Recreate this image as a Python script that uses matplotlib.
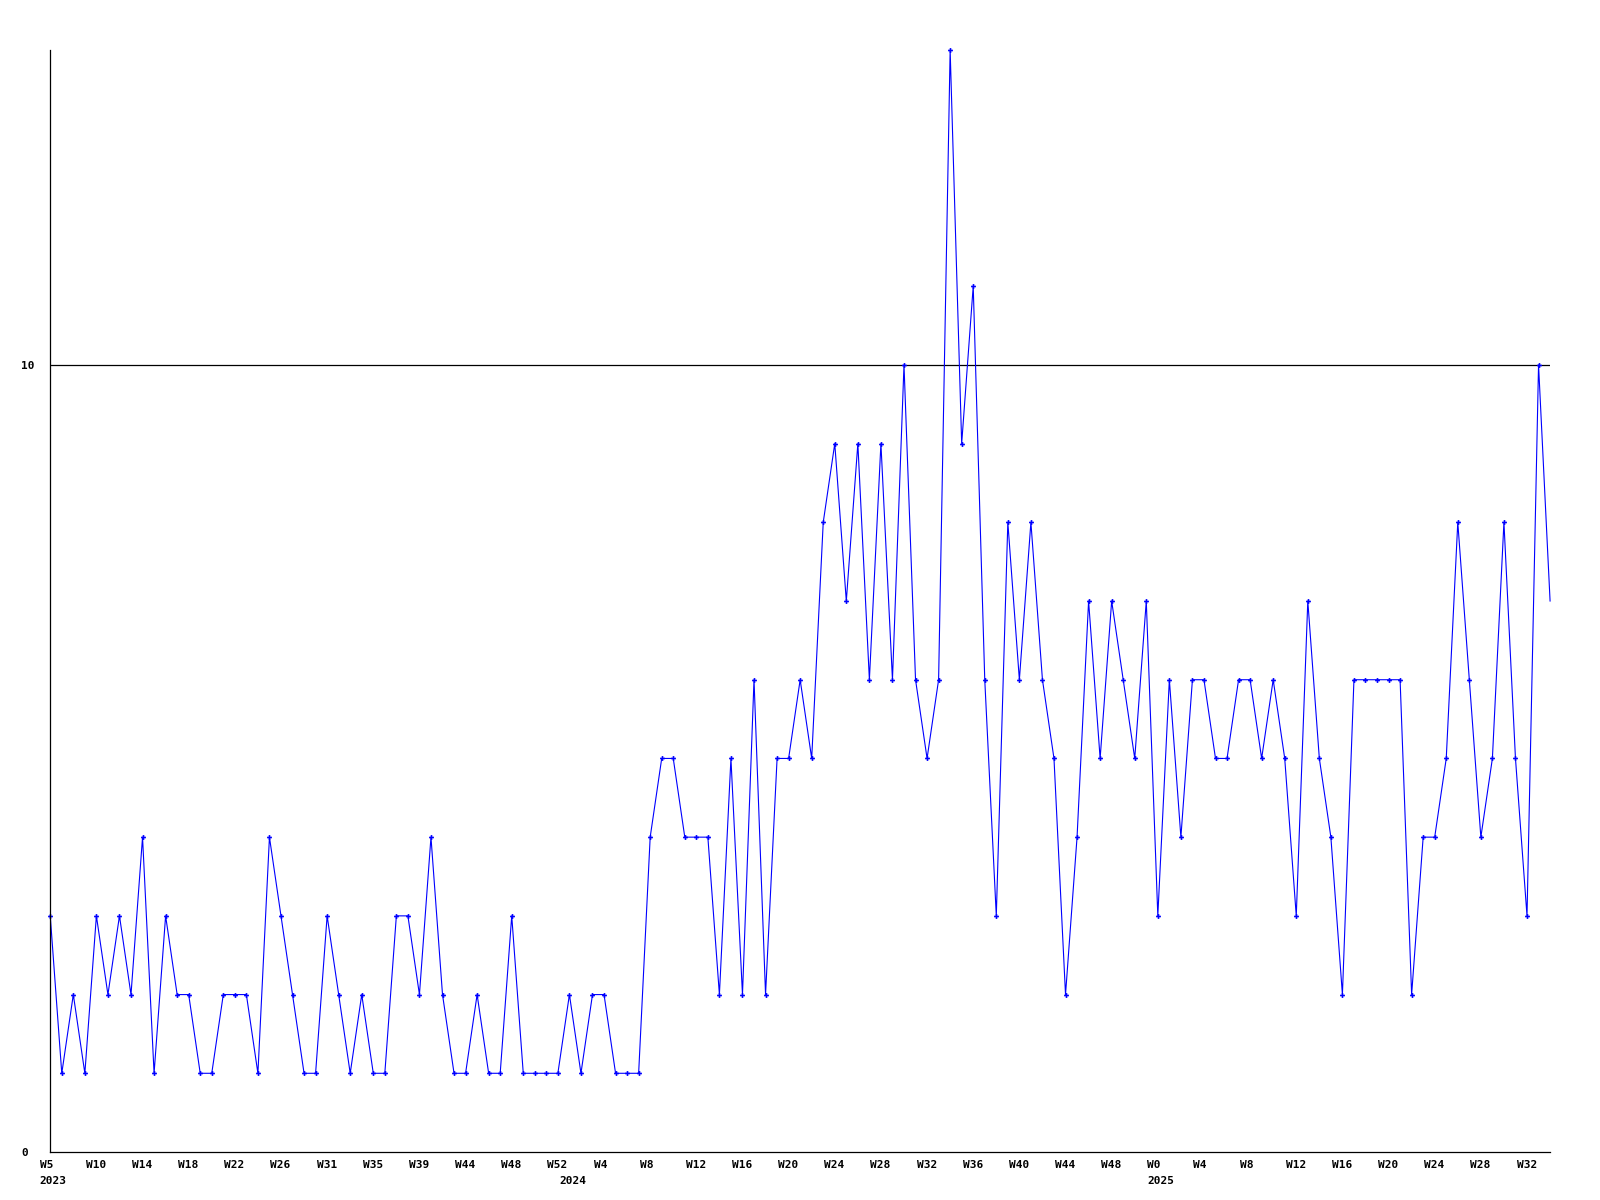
import matplotlib
matplotlib.use("Agg")
import matplotlib.pyplot as plt
import matplotlib.transforms as mtransforms

# weekly counts, 2023 W5 .. 2025 W33
counts = [
    3, 1, 2, 1, 3, 2, 3, 2, 4, 1, 3, 2, 2, 1, 1, 2, 2, 2, 1, 4,
    3, 2, 1, 1, 3, 2, 1, 2, 1, 1, 3, 3, 2, 4, 2, 1, 1, 2, 1, 1,
    3, 1, 1, 1, 1, 2, 1, 2, 2, 1, 1, 1, 4, 5, 5, 4, 4, 4, 2, 5,
    2, 6, 2, 5, 5, 6, 5, 8, 9, 7, 9, 6, 9, 6, 10, 6, 5, 6, 14, 9,
    11, 6, 3, 8, 6, 8, 6, 5, 2, 4, 7, 5, 7, 6, 5, 7, 3, 6, 4, 6,
    6, 5, 5, 6, 6, 5, 6, 5, 3, 7, 5, 4, 2, 6, 6, 6, 6, 6, 2, 4,
    4, 5, 8, 6, 4, 5, 8, 5, 3, 10, 7,
]

week_labels = [
    "W5", "W10", "W14", "W18", "W22", "W26", "W31", "W35", "W39", "W44", "W48", "W52",
    "W4", "W8", "W12", "W16", "W20", "W24", "W28", "W32", "W36", "W40", "W44", "W48",
    "W0", "W4", "W8", "W12", "W16", "W20", "W24", "W28", "W32",
]
years = ["2023", "2024", "2025"]
year_start = [0, 45, 96]  # index of first week of each year

x = list(range(len(counts)))

fig = plt.figure(figsize=(16, 12), dpi=100)
ax = fig.add_axes([0.0314, 0.04, 0.9374, 0.9183])

# current (last) week is drawn without a marker
ax.plot(x, counts, color="#0000ff", linewidth=0.8,
        marker="P", markersize=3.5, markeredgewidth=0,
        markevery=slice(0, len(counts) - 1), clip_on=False)
ax.axhline(10, color="black", linewidth=0.9, zorder=1)

ax.set_xlim(0, len(counts) - 1)
ax.set_ylim(0, 14)

for side in ["top", "right"]:
    ax.spines[side].set_visible(False)
for side in ["left", "bottom"]:
    ax.spines[side].set_linewidth(0.9)

font = dict(family="DejaVu Sans Mono", weight="bold", size=8)

# y labels, left aligned near the figure edge
ax.set_yticks([0, 10])
ax.set_yticklabels(["0", "10"], **font)
ax.tick_params(axis="y", length=0, pad=21)
for lab in ax.get_yticklabels():
    lab.set_horizontalalignment("left")

# x labels every 4 weeks, left aligned a bit before the point
ax.set_xticks([])
shift = mtransforms.ScaledTranslation(-10.5 / 100, -8 / 100, fig.dpi_scale_trans)
trans = mtransforms.blended_transform_factory(ax.transData, ax.transAxes) + shift
for i, lab in enumerate(week_labels):
    ax.text(i * 4, 0, lab, transform=trans, ha="left", va="top", **font)

shift2 = mtransforms.ScaledTranslation(-10.5 / 100, -24 / 100, fig.dpi_scale_trans)
trans2 = mtransforms.blended_transform_factory(ax.transData, ax.transAxes) + shift2
for pos, yr in zip(year_start, years):
    ax.text(pos, 0, yr, transform=trans2, ha="left", va="top", **font)

fig.savefig("out.png", dpi=100)
